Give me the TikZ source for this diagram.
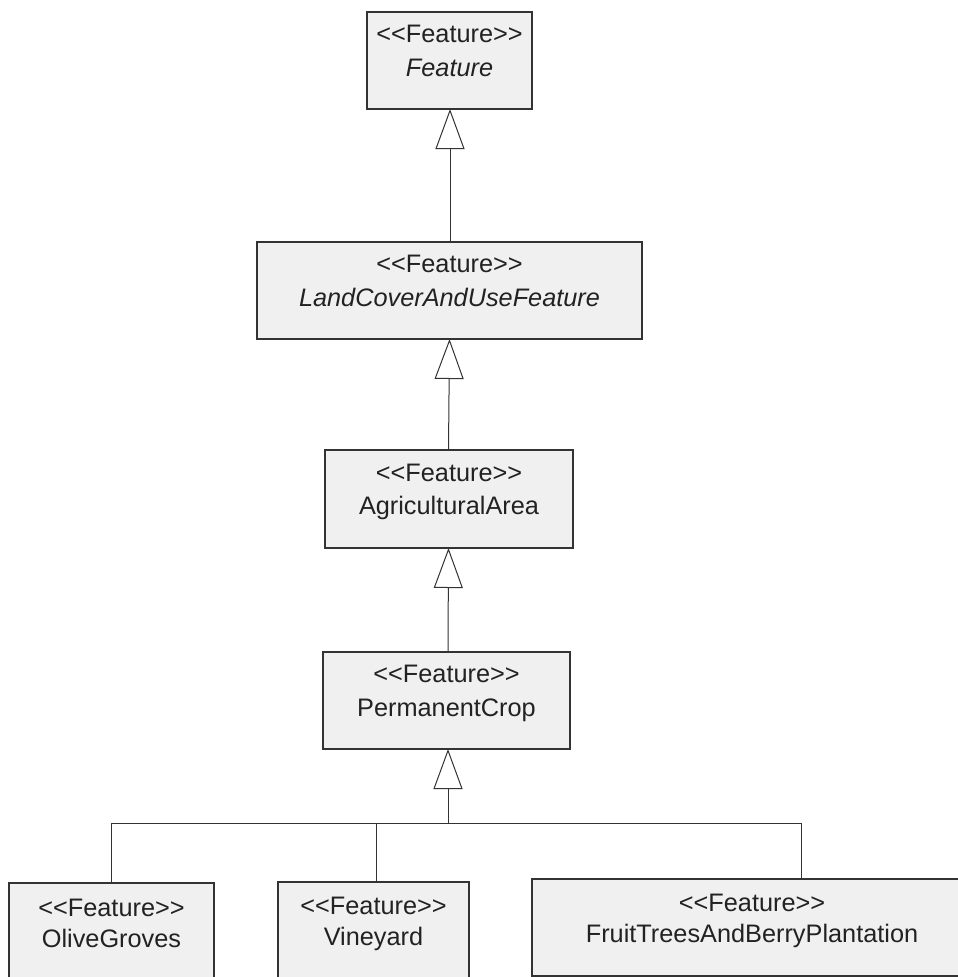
\documentclass[tikz,border=0pt]{standalone}
\usepackage{fontspec}
\setmainfont{Liberation Sans}[Ligatures=ResetAll]
\usetikzlibrary{arrows.meta}
\definecolor{boxfill}{HTML}{F0F0F0}
\definecolor{linecol}{HTML}{333333}
\definecolor{txtcol}{HTML}{222222}
\newcommand\stereoFeat{<\kern0pt<Feature>\kern0pt>}
\tikzset{
  umlbox/.style={draw=linecol, fill=boxfill, line width=1.2pt, inner sep=0pt, outer sep=0pt},
  lbl/.style={anchor=base, inner sep=0pt, text=txtcol, font=\fontsize{25.3}{34}\selectfont},
  conn/.style={draw=linecol, line width=1pt},
  gen/.style={conn, -{Triangle[open, length=40pt, width=29pt, fill=white]}}
}
\begin{document}
\begin{tikzpicture}[x=1pt, y=-1pt]
\useasboundingbox (0,0) rectangle (958,977);
\clip (0,0) rectangle (958,977);
\fill[white] (0,0) rectangle (958,977);

% boxes
\node[umlbox, minimum width=165pt, minimum height=97pt] (feat) at (449.5,60.5) {};
\node[umlbox, minimum width=385pt, minimum height=97pt] (land) at (449.5,290.5) {};
\node[umlbox, minimum width=248pt, minimum height=98pt] (agri) at (449,499) {};
\node[umlbox, minimum width=247pt, minimum height=97pt] (perm) at (446.5,700.5) {};
\node[umlbox, minimum width=205pt, minimum height=97pt] (olive) at (111.5,931.5) {};
\node[umlbox, minimum width=191pt, minimum height=97pt] (vine) at (373.5,930.5) {};
\node[umlbox, minimum width=440pt, minimum height=97pt] (fruit) at (752,927.5) {};

% labels
\node[lbl] (featA) at (449.5,42) {\stereoFeat};
\node[lbl] (featB) at (449.5,76) {\itshape Feature};
\node[lbl] (landA) at (449.5,272) {\stereoFeat};
\node[lbl] (landB) at (449.5,306) {\itshape LandCoverAndUseFeature};
\node[lbl] (agriA) at (449,481) {\stereoFeat};
\node[lbl] (agriB) at (449,514) {AgriculturalArea};
\node[lbl] (permA) at (446.5,682) {\stereoFeat};
\node[lbl] (permB) at (446.5,716) {PermanentCrop};
\node[lbl] (oliveA) at (111.5,916) {\stereoFeat};
\node[lbl] (oliveB) at (111.5,947) {OliveGroves};
\node[lbl] (vineA) at (373.5,914) {\stereoFeat};
\node[lbl] (vineB) at (373.5,945) {Vineyard};
\node[lbl] (fruitA) at (752,911) {\stereoFeat};
\node[lbl] (fruitB) at (752,942) {FruitTreesAndBerryPlantation};

% generalizations
\coordinate (landTop) at (450,242);
\coordinate (featBot) at (450,109);
\draw[gen] (landTop) -- (featBot);
\coordinate (agriTop) at (448.5,450);
\coordinate (landBot) at (449.5,339);
\draw[gen] (agriTop) -- (landBot);
\coordinate (permTop) at (448,652);
\coordinate (agriBot) at (448.5,548);
\draw[gen] (permTop) -- (agriBot);

\coordinate (bus) at (448,823);
\coordinate (permBot) at (448,749);
\draw[gen] (bus) -- (permBot);
\coordinate (oliveTop) at (111,883);
\coordinate (vineTop) at (376,882);
\coordinate (fruitTop) at (801,879);
\draw[conn] (oliveTop) |- (bus);
\draw[conn] (vineTop) -- (vineTop |- bus);
\draw[conn] (fruitTop) |- (bus);
\end{tikzpicture}
\end{document}
